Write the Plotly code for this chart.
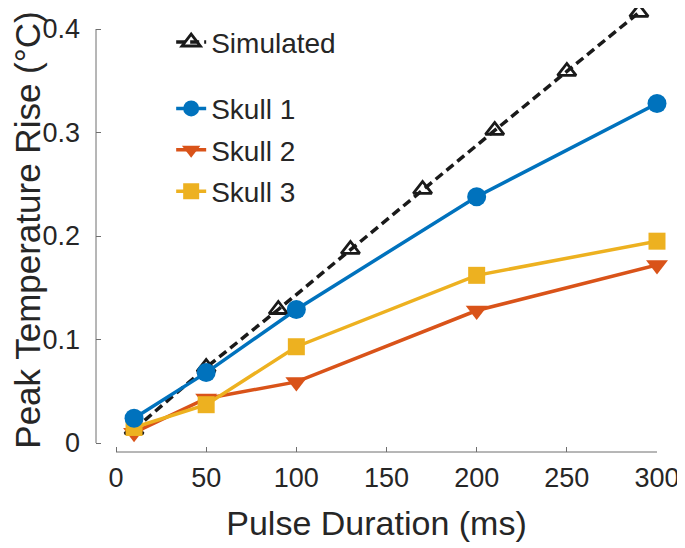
import plotly.graph_objects as go

# ---- data ----
sim_x = [10, 50, 90, 130, 170, 210, 250, 290]
sim_y = [0.013, 0.073, 0.129, 0.187, 0.245, 0.302, 0.359, 0.416]

skull_x = [10, 50, 100, 200, 300]
skull1_y = [0.024, 0.068, 0.129, 0.238, 0.328]
skull2_y = [0.010, 0.043, 0.059, 0.128, 0.172]
skull3_y = [0.015, 0.037, 0.093, 0.162, 0.195]

x_ticks = [0, 50, 100, 150, 200, 250, 300]
y_ticks = [0, 0.1, 0.2, 0.3, 0.4]
y_tick_labels = ["0", "0.1", "0.2", "0.3", "0.4"]

FONT = "Liberation Sans, Arial, Helvetica, sans-serif"
TXT = "#262626"
AX = "#6e6e6e"

fig = go.Figure()

fig.add_trace(go.Scatter(
    x=sim_x, y=sim_y, name="Simulated", mode="lines+markers",
    line=dict(color="#1a1a1a", width=3.5, dash="9px,5px"),
    marker=dict(symbol="triangle-up-open", size=16, color="#1a1a1a",
                line=dict(width=2.8, color="#1a1a1a")),
    cliponaxis=False, legend="legend3",
))
fig.add_trace(go.Scatter(
    x=skull_x, y=skull2_y, name="Skull 2", mode="lines+markers",
    line=dict(color="#D95319", width=3.5),
    marker=dict(symbol="triangle-down", size=19, color="#D95319"),
    cliponaxis=False, legend="legend2", legendgroup="s2", legendrank=2,
))
fig.add_trace(go.Scatter(
    x=skull_x, y=skull3_y, name="Skull 3", mode="lines+markers",
    line=dict(color="#EDB120", width=3.5),
    marker=dict(symbol="square", size=17, color="#EDB120"),
    cliponaxis=False, legend="legend2", legendgroup="s3", legendrank=3,
))
fig.add_trace(go.Scatter(
    x=skull_x, y=skull1_y, name="Skull 1", mode="lines+markers",
    line=dict(color="#0072BD", width=3.5),
    marker=dict(symbol="circle", size=19, color="#0072BD"),
    cliponaxis=False, legend="legend2", legendgroup="s1", legendrank=1,
))

# page has an 8px body margin; figure is 677x540 so it fits the window
fig.update_layout(
    width=677, height=540,
    margin=dict(l=88, r=28, t=0, b=96),
    paper_bgcolor="white", plot_bgcolor="white",
    font=dict(family=FONT, color=TXT),
    showlegend=True,
    xaxis=dict(
        range=[-11.1, 300], tickvals=x_ticks, ticks="inside", ticklen=5,
        tickcolor=AX, showline=False, showgrid=False, zeroline=False,
        automargin=False,
        tickfont=dict(size=27, color=TXT), ticklabelstandoff=7,
        title=dict(text="Pulse Duration (ms)", font=dict(size=34, color=TXT),
                   standoff=19),
    ),
    yaxis=dict(
        range=[-0.0087, 0.4203], tickvals=y_ticks, ticktext=y_tick_labels,
        ticks="inside", ticklen=5, tickcolor=AX, showline=False,
        showgrid=False, zeroline=False, automargin=False,
        tickfont=dict(size=27, color=TXT), ticklabelstandoff=15,
        title=dict(text="Peak Temperature Rise (°C)",
                   font=dict(size=35, color=TXT), standoff=0),
    ),
    legend3=dict(x=0.134, y=0.979, xanchor="left", yanchor="top",
                 bgcolor="rgba(0,0,0,0)", font=dict(size=28, color=TXT)),
    legend2=dict(x=0.134, y=0.8295, xanchor="left", yanchor="top",
                 bgcolor="rgba(0,0,0,0)", font=dict(size=28, color=TXT),
                 traceorder="grouped", tracegroupgap=2),
    shapes=[
        dict(type="line", xref="paper", yref="y", x0=0, x1=0, y0=0, y1=0.4,
             line=dict(color=AX, width=1)),
        dict(type="line", xref="x", yref="paper", x0=0, x1=300, y0=0, y1=0,
             line=dict(color=AX, width=1)),
    ],
)

fig.write_html("out.html")
